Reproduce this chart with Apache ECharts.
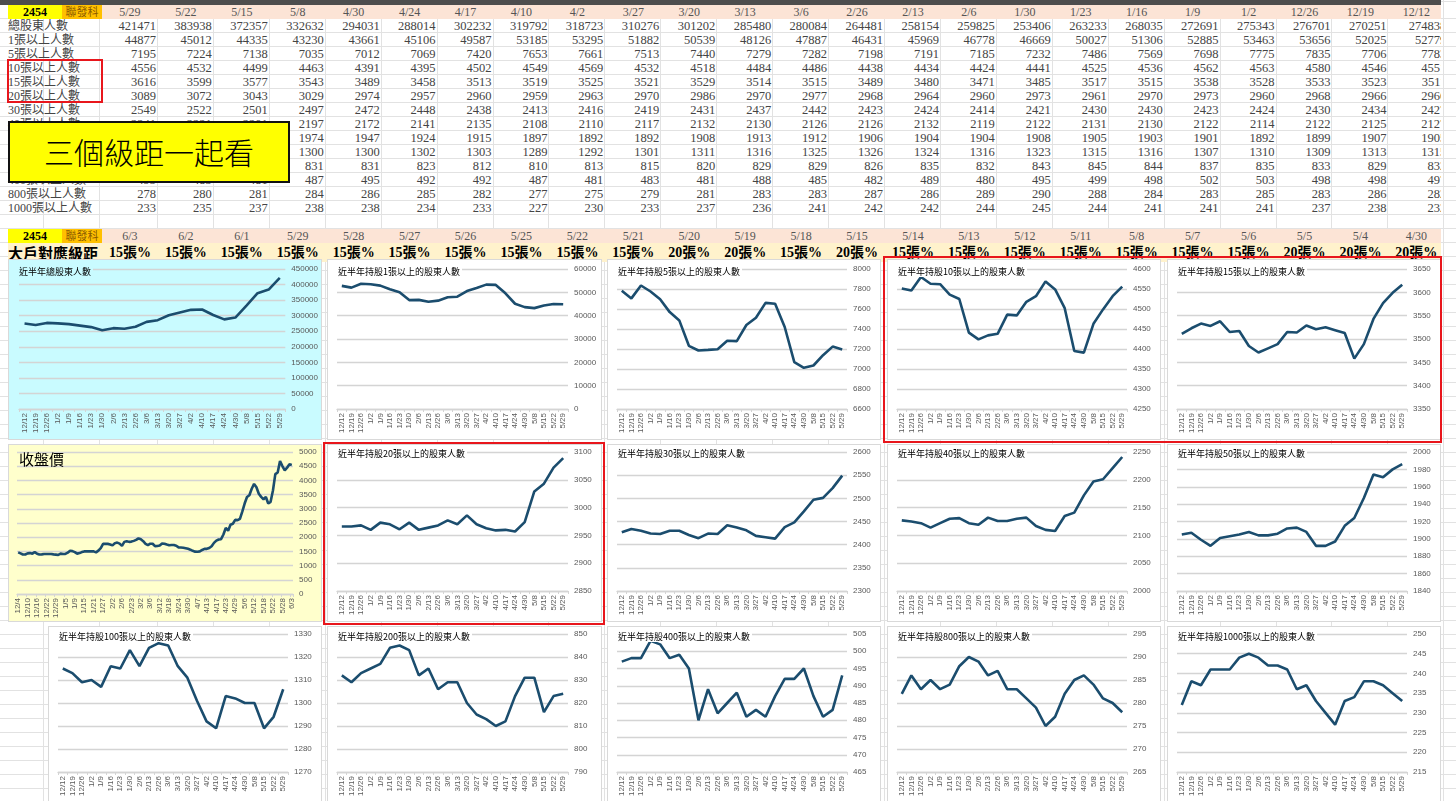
<!DOCTYPE html>
<html>
<head>
<meta charset="utf-8">
<title>2454 聯發科 股東級距</title>
<script src="https://cdn.jsdelivr.net/npm/echarts@6/dist/echarts.min.js"></script>
<style>
  body {
    margin: 0;
    width: 1456px;
    height: 801px;
    overflow: hidden;
    position: relative;
    background-color: #fff;
    background-image:
      repeating-linear-gradient(to bottom, transparent 0, transparent 13px, #e2e2e2 13px, #e2e2e2 14px),
      repeating-linear-gradient(to right, transparent 0, transparent 54.93px, #e2e2e2 54.93px, #e2e2e2 55.93px);
    background-position: 0 5px, 102px 0;
    font-family: 'Liberation Serif', 'Noto Sans CJK TC', serif;
  }
  .c {
    position: absolute;
    white-space: nowrap;
    box-sizing: border-box;
    color: #333;
  }
  .chart {
    position: absolute;
    box-sizing: border-box;
    border: 1px solid #d9d9d9;
    background: #fff;
  }
  .redbox {
    position: absolute;
    box-sizing: border-box;
    border: 2px solid #e8161c;
    z-index: 10;
  }
</style>
</head>
<body>
<div id="sheet" style="position:absolute;left:0;top:0;width:1441px;height:262px;overflow:hidden"></div>
<script>
// ---- 週資料表 (新 -> 舊) ----
var weekDates = ['5/29', '5/22', '5/15', '5/8', '4/30', '4/24', '4/17', '4/10', '4/2', '3/27', '3/20', '3/13',
  '3/6', '2/26', '2/13', '2/6', '1/30', '1/23', '1/16', '1/9', '1/2', '12/26', '12/19', '12/12']
var rowLabels = ['總股東人數', '1張以上人數', '5張以上人數', '10張以上人數', '15張以上人數', '20張以上人數',
  '30張以上人數', '40張以上人數', '50張以上人數', '100張以上人數', '200張以上人數', '400張以上人數',
  '800張以上人數', '1000張以上人數']
var totalHolders = [421471, 383938, 372357, 332632, 294031, 288014, 302232, 319792, 318723, 310276, 301202, 285480,
  280084, 264481, 258154, 259825, 253406, 263233, 268035, 272691, 275343, 276701, 270251, 274838]
var above1 = [44877, 45012, 44335, 43230, 43661, 45106, 49587, 53185, 53295, 51882, 50539, 48126,
  47887, 46431, 45969, 46778, 46669, 50027, 51306, 52885, 53463, 53656, 52025, 52779]
var above5 = [7195, 7224, 7138, 7035, 7012, 7069, 7420, 7653, 7661, 7513, 7440, 7279,
  7282, 7198, 7191, 7185, 7232, 7486, 7569, 7698, 7775, 7835, 7706, 7783]
var above10 = [4556, 4532, 4499, 4463, 4391, 4395, 4502, 4549, 4569, 4532, 4518, 4484,
  4486, 4438, 4434, 4424, 4441, 4525, 4536, 4562, 4563, 4580, 4546, 4551]
var above15 = [3616, 3599, 3577, 3543, 3489, 3458, 3513, 3519, 3525, 3521, 3529, 3514,
  3515, 3489, 3480, 3471, 3485, 3517, 3515, 3538, 3528, 3533, 3523, 3511]
var above20 = [3089, 3072, 3043, 3029, 2974, 2957, 2960, 2959, 2963, 2970, 2986, 2970,
  2977, 2968, 2964, 2960, 2973, 2961, 2970, 2973, 2960, 2968, 2966, 2966]
var above30 = [2549, 2522, 2501, 2497, 2472, 2448, 2438, 2413, 2416, 2419, 2431, 2437,
  2442, 2423, 2424, 2414, 2421, 2430, 2430, 2423, 2424, 2430, 2434, 2427]
var above40 = [2241, 2221, 2201, 2197, 2172, 2141, 2135, 2108, 2110, 2117, 2132, 2130,
  2126, 2126, 2132, 2119, 2122, 2131, 2130, 2122, 2114, 2122, 2125, 2127]
var above50 = [1986, 1980, 1971, 1974, 1947, 1924, 1915, 1897, 1892, 1892, 1908, 1913,
  1912, 1906, 1904, 1904, 1908, 1905, 1903, 1901, 1892, 1899, 1907, 1905]
var above100 = [1306, 1294, 1289, 1300, 1300, 1302, 1303, 1289, 1292, 1301, 1311, 1316,
  1325, 1326, 1324, 1316, 1323, 1315, 1316, 1307, 1310, 1309, 1313, 1315]
var above200 = [824, 823, 816, 831, 831, 823, 812, 810, 813, 815, 820, 829,
  829, 826, 835, 832, 843, 845, 844, 837, 835, 833, 829, 832]
var above400 = [493, 483, 481, 487, 495, 492, 492, 487, 481, 483, 481, 488,
  485, 482, 489, 480, 495, 499, 498, 502, 503, 498, 498, 497]
var above800 = [278, 280, 281, 284, 286, 285, 282, 277, 275, 279, 281, 283,
  283, 287, 286, 289, 290, 288, 284, 283, 285, 283, 286, 282]
var above1000 = [233, 235, 237, 238, 238, 234, 233, 227, 230, 233, 237, 236,
  241, 242, 242, 244, 245, 244, 241, 241, 241, 237, 238, 232]

// ---- 日資料表表頭 ----
var dayDates = ['6/3', '6/2', '6/1', '5/29', '5/28', '5/27', '5/26', '5/25', '5/22', '5/21', '5/20', '5/19',
  '5/18', '5/15', '5/14', '5/13', '5/12', '5/11', '5/8', '5/7', '5/6', '5/5', '5/4', '4/30']
var levelTags = ['15張%', '15張%', '15張%', '15張%', '15張%', '15張%', '15張%', '15張%', '15張%', '15張%', '20張%', '20張%',
  '15張%', '20張%', '15張%', '15張%', '15張%', '15張%', '15張%', '15張%', '15張%', '20張%', '20張%', '20張%']

// ---- 收盤價 (日) ----
var priceDates = ['12/4', '12/5', '12/8', '12/9', '12/10', '12/11', '12/12', '12/15', '12/16', '12/17', '12/18', '12/19',
  '12/22', '12/23', '12/24', '12/26', '12/29', '12/30', '12/31', '1/2', '1/5', '1/6', '1/7', '1/8', '1/9',
  '1/12', '1/13', '1/14', '1/15', '1/16', '1/19', '1/20', '1/21', '1/22', '1/23', '1/26', '1/27', '1/28',
  '1/29', '1/30', '2/2', '2/3', '2/4', '2/5', '2/6', '2/9', '2/10', '2/11', '2/23', '2/24', '2/25', '2/26',
  '3/2', '3/3', '3/4', '3/5', '3/6', '3/9', '3/10', '3/11', '3/12', '3/13', '3/16', '3/17', '3/18', '3/19',
  '3/20', '3/23', '3/24', '3/25', '3/26', '3/27', '3/30', '3/31', '4/1', '4/2', '4/7', '4/8', '4/9', '4/10',
  '4/13', '4/14', '4/15', '4/16', '4/17', '4/20', '4/21', '4/22', '4/23', '4/24', '4/27', '4/28', '4/29',
  '4/30', '5/4', '5/5', '5/6', '5/7', '5/8', '5/11', '5/12', '5/13', '5/14', '5/15', '5/18', '5/19', '5/20',
  '5/21', '5/22', '5/25', '5/26', '5/27', '5/28', '5/29', '6/1', '6/2', '6/3']
var closePrice = [1465, 1430, 1390, 1390, 1430, 1440, 1420, 1475, 1420, 1390, 1395, 1410,
  1410, 1410, 1410, 1395, 1385, 1375, 1420, 1410, 1410, 1455, 1525, 1510, 1475,
  1420, 1440, 1475, 1500, 1500, 1500, 1500, 1500, 1465, 1525, 1615, 1765, 1765,
  1765, 1745, 1710, 1790, 1810, 1775, 1695, 1835, 1860, 1835, 1845, 1870, 1905, 1960,
  1925, 1860, 1765, 1720, 1770, 1770, 1685, 1690, 1710, 1780, 1770, 1740, 1715, 1725,
  1725, 1700, 1640, 1635, 1630, 1610, 1590, 1560, 1520, 1490, 1485, 1500, 1550, 1590,
  1590, 1620, 1680, 1800, 1880, 1920, 1930, 2095, 2325, 2230, 2440, 2475, 2610,
  2600, 2645, 2900, 3185, 3415, 3475, 3705, 3875, 3760, 3530, 3420, 3335, 3415, 3185,
  3245, 3645, 4220, 4280, 4680, 4505, 4355, 4450, 4565, 4540]

var rowSeries = [totalHolders, above1, above5, above10, above15, above20, above30, above40,
  above50, above100, above200, above400, above800, above1000]

// ---- 試算表 ----
var sheet = document.getElementById('sheet')
var colX = 102
var colW = 55.93
function cell(parent, x, y, w, h, text, css) {
  var d = document.createElement('div')
  d.className = 'c'
  d.style.cssText = 'left:' + x + 'px;top:' + y + 'px;width:' + w + 'px;height:' + h + 'px;line-height:' + h + 'px;' + (css || '')
  d.textContent = text
  parent.appendChild(d)
  return d
}
// 最上方欄名列
cell(sheet, 0, 0, 1442, 5, '', 'background:#4d4d4d')
// 週表表頭
cell(sheet, 8, 5, 54, 14, '2454', 'background:#ffff00;text-align:center;font-weight:bold;font-size:12px;color:#000')
cell(sheet, 62, 5, 40, 14, '聯發科', 'background:#ffc000;text-align:center;font-size:11px;color:#8a5a00')
cell(sheet, colX, 5, 1340, 14, '', 'background:#fce4d6')
weekDates.forEach(function (d, j) {
  cell(sheet, colX + j * colW, 5, colW, 14, d, 'text-align:center;font-size:12px;color:#555')
})
rowLabels.forEach(function (lab, i) {
  var y = 19 + i * 14
  cell(sheet, 8, y, 94, 14, lab, 'font-size:12px;color:#444')
  rowSeries[i].forEach(function (v, j) {
    var pad = j === rowSeries[i].length - 1 ? 0 : 2
    cell(sheet, colX + j * colW, y, colW + 2 - pad, 14, String(v), 'text-align:right;padding-right:' + pad + 'px;font-size:12.5px;color:#444')
  })
})
// 日表表頭
cell(sheet, 8, 229, 54, 14, '2454', 'background:#ffff00;text-align:center;font-weight:bold;font-size:12px;color:#000')
cell(sheet, 62, 229, 40, 14, '聯發科', 'background:#ffc000;text-align:center;font-size:11px;color:#8a5a00')
cell(sheet, colX, 229, 1340, 14, '', 'background:#fce4d6')
dayDates.forEach(function (d, j) {
  cell(sheet, colX + j * colW, 229, colW, 14, d, 'text-align:center;font-size:12px;color:#555')
})
cell(sheet, 8, 243, 1434, 19, '', 'background:#fff2cc')
cell(sheet, 8, 243, 94, 19, '大戶對應級距', 'font-size:15px;font-weight:bold;color:#000;font-family:"Noto Sans CJK TC",sans-serif')
levelTags.forEach(function (t, j) {
  cell(sheet, colX + j * colW, 243, colW, 19, t, 'text-align:center;font-size:14px;font-weight:bold;color:#000')
})
// 黃色標語
cell(document.body, 8, 121, 282, 62, '三個級距一起看',
  'background:#ffff00;border:2px solid #111;text-align:center;font-size:30px;line-height:56px;color:#000;z-index:5;font-family:"Noto Sans CJK TC",sans-serif;font-weight:300')

// ---- 圖表 ----
var chronoWeeks = weekDates.slice().reverse()
var cols = [[8, 314], [327, 275], [607, 274], [887, 274], [1167, 274]]
var rows = [
  { top: 259, h: 181, gTop: 9, gBottom: 30, tTop: 6 },
  { top: 444, h: 178, gTop: 7, gBottom: 30, tTop: 3 },
  { top: 626, h: 180, gTop: 7, gBottom: 33, tTop: 4 }
]
var charts = [
  { r: 0, c: 0, title: '近半年總股東人數', data: totalHolders, min: 0, max: 450000, step: 50000, bg: '#c9fbff', right: 35, left: 10 },
  { r: 0, c: 1, title: '近半年持股1張以上的股東人數', data: above1, min: 0, max: 60000, step: 10000 },
  { r: 0, c: 2, title: '近半年持股5張以上的股東人數', data: above5, min: 6600, max: 8000, step: 200 },
  { r: 0, c: 3, title: '近半年持股10張以上的股東人數', data: above10, min: 4250, max: 4600, step: 50 },
  { r: 0, c: 4, title: '近半年持股15張以上的股東人數', data: above15, min: 3350, max: 3650, step: 50 },
  { r: 1, c: 0, price: true },
  { r: 1, c: 1, title: '近半年持股20張以上的股東人數', data: above20, min: 2850, max: 3100, step: 50 },
  { r: 1, c: 2, title: '近半年持股30張以上的股東人數', data: above30, min: 2300, max: 2600, step: 50 },
  { r: 1, c: 3, title: '近半年持股40張以上的股東人數', data: above40, min: 2000, max: 2250, step: 50 },
  { r: 1, c: 4, title: '近半年持股50張以上的股東人數', data: above50, min: 1840, max: 2000, step: 20 },
  { r: 2, c: 0, title: '近半年持股100張以上的股東人數', data: above100, min: 1270, max: 1330, step: 10, x: 48 },
  { r: 2, c: 1, title: '近半年持股200張以上的股東人數', data: above200, min: 790, max: 850, step: 10 },
  { r: 2, c: 2, title: '近半年持股400張以上的股東人數', data: above400, min: 465, max: 505, step: 5 },
  { r: 2, c: 3, title: '近半年持股800張以上的股東人數', data: above800, min: 265, max: 295, step: 5 },
  { r: 2, c: 4, title: '近半年持股1000張以上的股東人數', data: above1000, min: 215, max: 250, step: 5 }
]

var lineColor = '#1b4d6e'
var gridColor = '#d4d4d4'
var labelColor = '#595959'

charts.forEach(function (cfg) {
  var row = rows[cfg.r]
  var x = cfg.x || cols[cfg.c][0]
  var w = cfg.x ? cols[cfg.c][0] + cols[cfg.c][1] - cfg.x : cols[cfg.c][1]
  var el = document.createElement('div')
  el.className = 'chart'
  el.style.cssText = 'left:' + x + 'px;top:' + row.top + 'px;width:' + w + 'px;height:' + row.h + 'px'
  document.body.appendChild(el)
  var bg = cfg.price ? '#ffffcc' : (cfg.bg || '#ffffff')
  el.style.background = bg
  var myChart = echarts.init(el, null, { renderer: 'canvas' })
  var cats = cfg.price ? priceDates : chronoWeeks
  var vals = cfg.price ? closePrice : cfg.data.slice().reverse()
  var option = {
    animation: false,
    backgroundColor: bg,
    title: {
      text: cfg.price ? '收盤價' : cfg.title,
      left: 8,
      top: cfg.price ? 6 : row.tTop,
      padding: [1, 2],
      backgroundColor: cfg.price ? 'transparent' : bg,
      textStyle: {
        fontSize: cfg.price ? 15 : 9,
        fontWeight: 'normal',
        color: '#000',
        fontFamily: 'Noto Sans CJK TC'
      }
    },
    grid: {
      left: cfg.price ? 8 : (cfg.left || 9),
      right: cfg.price ? 28 : (cfg.right || 33),
      top: row.gTop,
      bottom: cfg.price ? 26 : row.gBottom,
      containLabel: false
    },
    xAxis: {
      type: 'category',
      data: cats,
      boundaryGap: true,
      axisLine: { show: true, lineStyle: { color: gridColor, width: 1.3 } },
      axisTick: { show: true, length: 3, lineStyle: { color: gridColor } },
      axisLabel: {
        rotate: 90,
        interval: cfg.price ? 3 : 0,
        fontSize: 8,
        margin: 4,
        color: labelColor,
        fontFamily: 'Liberation Sans'
      }
    },
    yAxis: {
      type: 'value',
      position: 'right',
      min: cfg.price ? 0 : cfg.min,
      max: cfg.price ? 5000 : cfg.max,
      interval: cfg.price ? 500 : cfg.step,
      axisLine: { show: false },
      axisTick: { show: false },
      splitLine: { lineStyle: { color: gridColor, width: 1.3 } },
      axisLabel: {
        fontSize: 8,
        margin: 6,
        color: labelColor,
        fontFamily: 'Liberation Sans',
        formatter: function (v) { return String(v) }
      }
    },
    series: [
      {
        type: 'line',
        data: vals,
        symbol: 'none',
        lineStyle: { color: lineColor, width: 2.6 },
        z: 3
      }
    ]
  }
  myChart.setOption(option)
})

// ---- 紅框 ----
function redBox(x, y, w, h) {
  var d = document.createElement('div')
  d.className = 'redbox'
  d.style.cssText = 'left:' + x + 'px;top:' + y + 'px;width:' + w + 'px;height:' + h + 'px'
  document.body.appendChild(d)
}
redBox(7, 59, 96, 44)
redBox(883, 256, 559, 187)
redBox(323, 442, 282, 183)
</script>
</body>
</html>
